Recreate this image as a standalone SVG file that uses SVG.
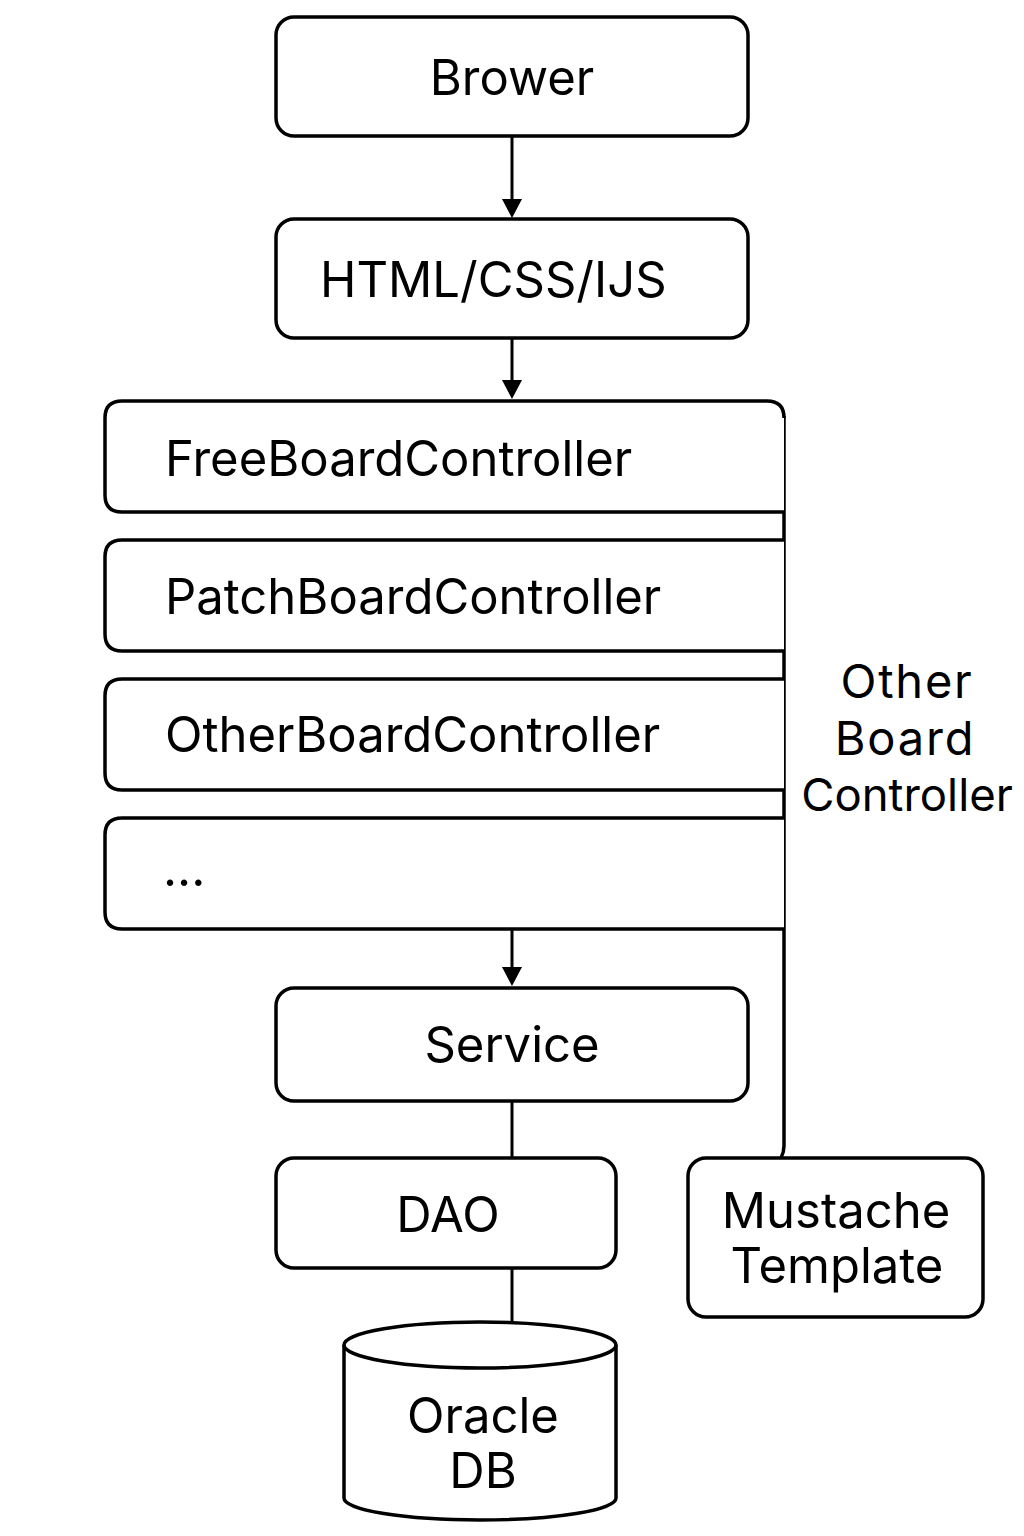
<svg xmlns="http://www.w3.org/2000/svg" width="1024" height="1536" viewBox="0 0 1024 1536">
<defs>
<style>
.box{fill:#fff;stroke:#000;stroke-width:3.5}
.ln{fill:none;stroke:#000;stroke-width:3}
.t{font-family:Inter,"Liberation Sans",sans-serif;font-size:49px;fill:#000}
.c{text-anchor:middle}
</style>
</defs>
<rect width="1024" height="1536" fill="#fff"/>
<g id="connectors">
<path class="ln" d="M512,137 V200" />
<path d="M502,199 L522,199 L512,218 Z" fill="#000"/>
<path class="ln" d="M512,338 V381" />
<path d="M502,380 L522,380 L512,399 Z" fill="#000"/>
<path class="ln" d="M512,930 V968" />
<path d="M502,967 L522,967 L512,986 Z" fill="#000"/>
<path class="ln" d="M512,1101 V1158" />
<path class="ln" d="M512,1268 V1325" />
<path class="box" style="fill:none" d="M784,416 V1146 Q784,1152 781,1158" />
</g>
<g id="browser">
<rect class="box" x="276" y="17" width="472" height="119" rx="18"/>
<text class="t c" x="512" y="95">Brower</text>
</g>
<g id="html">
<rect class="box" x="276" y="219" width="472" height="119" rx="18"/>
<text class="t" x="320" y="297">HTML/CSS/IJS</text>
</g>
<g id="free-board-controller">
<path class="box" d="M784,512 H122 Q105,512 105,495 V418 Q105,401 122,401 H767 Q784,401 784,418"/>
<text class="t" x="165" y="476">FreeBoardController</text>
</g>
<g id="patch-board-controller">
<path class="box" d="M784,651 H122 Q105,651 105,634 V557 Q105,540 122,540 H784"/>
<text class="t" x="165" y="614">PatchBoardController</text>
</g>
<g id="other-board-controller">
<path class="box" d="M784,790 H122 Q105,790 105,773 V696 Q105,679 122,679 H784"/>
<text class="t" x="165" y="752">OtherBoardController</text>
</g>
<g id="more-controllers">
<path class="box" d="M784,929 H122 Q105,929 105,912 V835 Q105,818 122,818 H784"/>
<text class="t" x="163" y="886">...</text>
</g>
<g id="other-board-label">
<text class="t c" style="font-size:47px;letter-spacing:1.8px"><tspan x="907" y="698">Other</tspan><tspan x="905" y="755">Board</tspan></text>
<text class="t c" x="907" y="811" style="font-size:45.5px">Controller</text>
</g>
<g id="service">
<rect class="box" x="276" y="988" width="472" height="113" rx="18"/>
<text class="t c" x="512" y="1062">Service</text>
</g>
<g id="dao">
<rect class="box" x="276" y="1158" width="340" height="110" rx="18"/>
<text class="t c" x="448" y="1232">DAO</text>
</g>
<g id="mustache">
<rect class="box" x="688" y="1158" width="295" height="159" rx="18"/>
<text class="t c"><tspan x="836" y="1228">Mustache</tspan><tspan x="837" y="1283">Template</tspan></text>
</g>
<g id="oracle-db">
<path class="box" d="M344,1345 V1498 A136,22 0 0 0 616,1498 V1345"/>
<ellipse class="box" cx="480" cy="1345" rx="136" ry="23"/>
<text class="t c"><tspan x="483" y="1433">Oracle</tspan><tspan x="483" y="1488">DB</tspan></text>
</g>
</svg>
